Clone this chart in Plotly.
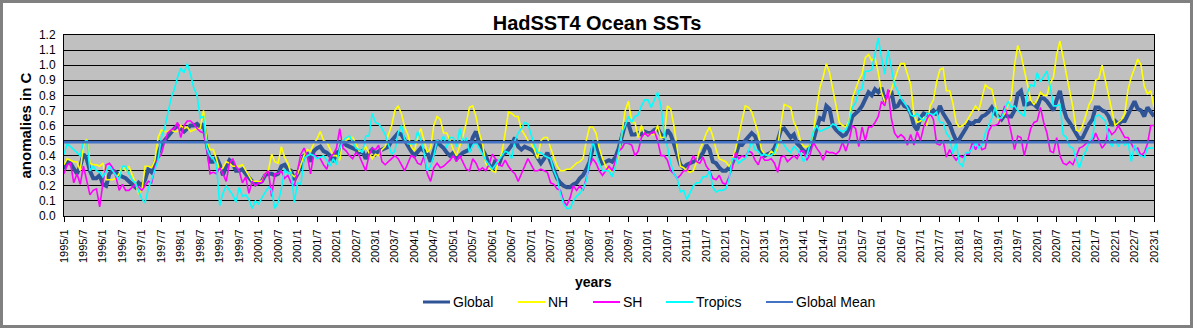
import plotly.graph_objects as go

# ---------------- data (HadSST4 monthly anomalies) ----------------
months = [f"{y}/{m}" for y in range(1995, 2023) for m in range(1, 13)] + ["2023/1"]

global_sst = [
    0.31,0.36,0.35,0.32,0.28,0.33,0.41,0.38,0.30,0.25,0.25,0.27,  # 1995
    0.21,0.20,0.28,0.30,0.29,0.27,0.26,0.25,0.23,0.21,0.19,0.22,  # 1996
    0.20,0.24,0.31,0.29,0.35,0.41,0.47,0.50,0.53,0.56,0.58,0.60,  # 1997
    0.58,0.56,0.58,0.60,0.60,0.61,0.59,0.61,0.48,0.36,0.36,0.39,  # 1998
    0.34,0.27,0.33,0.37,0.35,0.30,0.30,0.31,0.28,0.25,0.23,0.21,  # 1999
    0.22,0.23,0.27,0.28,0.28,0.27,0.28,0.33,0.34,0.31,0.30,0.24,  # 2000
    0.28,0.33,0.40,0.41,0.36,0.43,0.45,0.46,0.43,0.42,0.40,0.36,  # 2001
    0.42,0.43,0.50,0.47,0.46,0.45,0.44,0.42,0.43,0.38,0.42,0.44,  # 2002
    0.41,0.43,0.44,0.45,0.46,0.50,0.53,0.55,0.54,0.50,0.47,0.43,  # 2003
    0.40,0.43,0.45,0.43,0.42,0.36,0.44,0.50,0.47,0.45,0.42,0.40,  # 2004
    0.42,0.38,0.40,0.42,0.43,0.44,0.52,0.56,0.48,0.44,0.40,0.34,  # 2005
    0.31,0.37,0.34,0.40,0.42,0.44,0.47,0.52,0.46,0.44,0.46,0.45,  # 2006
    0.44,0.42,0.38,0.35,0.38,0.42,0.36,0.30,0.25,0.22,0.20,0.19,  # 2007
    0.19,0.21,0.22,0.25,0.27,0.31,0.36,0.45,0.48,0.40,0.35,0.36,  # 2008
    0.37,0.36,0.39,0.45,0.52,0.61,0.61,0.54,0.54,0.55,0.54,0.56,  # 2009
    0.55,0.55,0.57,0.58,0.54,0.52,0.57,0.54,0.48,0.40,0.34,0.32,  # 2010
    0.34,0.35,0.36,0.37,0.39,0.42,0.47,0.44,0.36,0.35,0.32,0.30,  # 2011
    0.30,0.32,0.35,0.40,0.47,0.47,0.50,0.53,0.55,0.53,0.46,0.41,  # 2012
    0.40,0.41,0.42,0.45,0.50,0.57,0.58,0.55,0.52,0.54,0.48,0.46,  # 2013
    0.43,0.42,0.46,0.50,0.58,0.65,0.64,0.73,0.71,0.60,0.57,0.55,  # 2014
    0.53,0.54,0.58,0.66,0.68,0.70,0.73,0.78,0.82,0.80,0.84,0.82,  # 2015
    0.85,0.77,0.78,0.83,0.72,0.73,0.77,0.73,0.72,0.68,0.60,0.57,  # 2016
    0.65,0.68,0.67,0.68,0.70,0.67,0.73,0.68,0.64,0.61,0.55,0.50,  # 2017
    0.51,0.54,0.58,0.62,0.61,0.63,0.63,0.66,0.67,0.69,0.72,0.68,  # 2018
    0.66,0.64,0.67,0.66,0.66,0.70,0.81,0.83,0.74,0.74,0.75,0.74,  # 2019
    0.72,0.78,0.78,0.76,0.73,0.70,0.77,0.83,0.72,0.65,0.62,0.58,  # 2020
    0.54,0.51,0.52,0.57,0.61,0.64,0.72,0.72,0.70,0.69,0.66,0.60,  # 2021
    0.63,0.61,0.63,0.63,0.67,0.71,0.76,0.71,0.70,0.66,0.72,0.69,  # 2022
    0.66,                                                          # 2023
]

nh_sst = [
    0.34,0.38,0.37,0.36,0.36,0.30,0.47,0.51,0.35,0.34,0.34,0.33,
    0.35,0.24,0.24,0.24,0.25,0.28,0.33,0.30,0.33,0.28,0.22,0.15,
    0.17,0.33,0.33,0.32,0.37,0.52,0.57,0.56,0.56,0.57,0.56,0.56,
    0.60,0.58,0.59,0.56,0.57,0.58,0.58,0.70,0.50,0.44,0.44,0.38,
    0.30,0.32,0.36,0.35,0.33,0.33,0.33,0.34,0.30,0.26,0.23,0.23,
    0.23,0.23,0.28,0.30,0.41,0.36,0.35,0.46,0.39,0.35,0.28,0.26,
    0.28,0.34,0.40,0.44,0.43,0.48,0.51,0.56,0.50,0.49,0.45,0.40,
    0.40,0.37,0.51,0.50,0.52,0.52,0.48,0.43,0.43,0.46,0.42,0.38,
    0.41,0.40,0.44,0.46,0.54,0.60,0.70,0.73,0.68,0.59,0.54,0.46,
    0.43,0.52,0.58,0.50,0.42,0.45,0.60,0.66,0.64,0.55,0.55,0.50,
    0.44,0.40,0.47,0.53,0.62,0.72,0.73,0.66,0.55,0.48,0.35,0.32,
    0.30,0.29,0.37,0.42,0.55,0.69,0.68,0.66,0.66,0.57,0.54,0.50,
    0.48,0.44,0.38,0.50,0.52,0.52,0.45,0.39,0.33,0.30,0.30,0.31,
    0.31,0.33,0.35,0.36,0.38,0.50,0.59,0.59,0.55,0.45,0.38,0.33,
    0.30,0.30,0.33,0.40,0.55,0.70,0.76,0.62,0.62,0.52,0.60,0.54,
    0.54,0.54,0.54,0.60,0.52,0.52,0.73,0.71,0.60,0.45,0.33,0.32,
    0.30,0.29,0.30,0.36,0.44,0.49,0.55,0.59,0.53,0.44,0.38,0.37,
    0.36,0.33,0.37,0.44,0.53,0.63,0.73,0.72,0.69,0.62,0.55,0.44,
    0.41,0.40,0.43,0.41,0.46,0.61,0.74,0.73,0.72,0.62,0.58,0.50,
    0.46,0.46,0.47,0.55,0.72,0.85,0.92,1.01,0.95,0.84,0.72,0.62,
    0.60,0.59,0.63,0.78,0.84,0.90,0.94,1.05,1.07,1.03,1.05,0.95,
    0.82,0.76,0.77,0.83,0.90,0.97,1.01,1.01,0.94,0.87,0.67,0.62,
    0.63,0.65,0.60,0.73,0.77,0.89,0.97,0.98,0.83,0.83,0.75,0.62,
    0.59,0.60,0.62,0.66,0.70,0.73,0.70,0.78,0.87,0.85,0.84,0.75,
    0.64,0.65,0.68,0.74,0.78,1.00,1.13,1.07,0.98,0.87,0.77,0.74,
    0.77,0.82,0.80,0.80,0.88,0.92,1.07,1.16,1.05,0.93,0.83,0.72,
    0.57,0.56,0.60,0.67,0.74,0.78,0.90,0.91,1.00,0.90,0.80,0.70,
    0.60,0.62,0.64,0.68,0.84,0.92,0.98,1.04,1.00,0.86,0.81,0.83,
    0.72,
]

sh_sst = [
    0.28,0.34,0.35,0.22,0.28,0.21,0.33,0.23,0.14,0.17,0.18,0.06,
    0.22,0.34,0.35,0.32,0.26,0.17,0.21,0.17,0.17,0.19,0.21,0.19,
    0.17,0.20,0.23,0.22,0.32,0.38,0.41,0.49,0.55,0.57,0.58,0.62,
    0.52,0.60,0.63,0.63,0.61,0.58,0.56,0.55,0.45,0.28,0.29,0.28,
    0.32,0.28,0.23,0.35,0.38,0.33,0.30,0.22,0.26,0.15,0.23,0.20,
    0.22,0.22,0.28,0.30,0.13,0.28,0.28,0.30,0.25,0.27,0.22,0.20,
    0.30,0.41,0.45,0.40,0.28,0.41,0.39,0.38,0.34,0.31,0.39,0.41,
    0.45,0.58,0.45,0.43,0.40,0.38,0.42,0.40,0.35,0.30,0.40,0.45,
    0.44,0.47,0.36,0.34,0.36,0.38,0.40,0.38,0.34,0.30,0.35,0.40,
    0.39,0.35,0.34,0.40,0.28,0.23,0.32,0.35,0.32,0.33,0.35,0.37,
    0.40,0.36,0.40,0.36,0.31,0.30,0.38,0.35,0.30,0.32,0.30,0.34,
    0.41,0.38,0.34,0.33,0.37,0.33,0.30,0.28,0.23,0.28,0.33,0.38,
    0.34,0.30,0.30,0.31,0.30,0.29,0.22,0.21,0.18,0.17,0.10,0.07,
    0.12,0.20,0.17,0.20,0.17,0.25,0.33,0.38,0.35,0.30,0.27,0.30,
    0.33,0.30,0.36,0.43,0.45,0.49,0.48,0.47,0.40,0.43,0.52,0.55,
    0.53,0.55,0.56,0.50,0.40,0.40,0.37,0.30,0.28,0.25,0.27,0.30,
    0.30,0.35,0.40,0.36,0.35,0.39,0.33,0.30,0.25,0.24,0.27,0.22,
    0.21,0.26,0.32,0.42,0.38,0.40,0.39,0.43,0.42,0.37,0.34,0.40,
    0.37,0.37,0.38,0.35,0.29,0.39,0.40,0.36,0.38,0.40,0.38,0.43,
    0.43,0.37,0.41,0.49,0.45,0.42,0.37,0.43,0.42,0.42,0.41,0.43,
    0.49,0.43,0.50,0.60,0.58,0.46,0.59,0.50,0.59,0.59,0.62,0.66,
    0.76,0.73,0.84,0.65,0.55,0.52,0.54,0.52,0.47,0.54,0.47,0.56,
    0.50,0.59,0.64,0.68,0.64,0.48,0.47,0.50,0.39,0.44,0.40,0.37,
    0.40,0.39,0.41,0.41,0.49,0.44,0.48,0.44,0.45,0.56,0.60,0.60,
    0.61,0.66,0.73,0.65,0.55,0.44,0.53,0.52,0.40,0.50,0.58,0.62,
    0.63,0.72,0.62,0.55,0.43,0.42,0.52,0.40,0.35,0.34,0.36,0.34,
    0.40,0.45,0.46,0.48,0.50,0.49,0.55,0.50,0.45,0.48,0.58,0.54,
    0.56,0.60,0.56,0.52,0.52,0.48,0.44,0.45,0.40,0.42,0.48,0.60,
    0.60,
]

tropics_sst = [
    0.41,0.48,0.46,0.44,0.42,0.40,0.49,0.50,0.30,0.33,0.30,0.29,
    0.26,0.30,0.33,0.30,0.27,0.24,0.33,0.33,0.28,0.24,0.22,0.17,
    0.11,0.09,0.18,0.24,0.30,0.37,0.52,0.58,0.68,0.78,0.84,0.92,
    0.98,0.95,1.01,0.94,0.85,0.80,0.65,0.66,0.45,0.40,0.38,0.34,
    0.07,0.15,0.20,0.17,0.14,0.09,0.19,0.13,0.14,0.11,0.05,0.10,
    0.08,0.12,0.16,0.19,0.17,0.05,0.09,0.18,0.31,0.28,0.29,0.09,
    0.22,0.21,0.38,0.40,0.41,0.40,0.38,0.39,0.40,0.37,0.33,0.38,
    0.34,0.45,0.50,0.52,0.53,0.49,0.45,0.44,0.42,0.53,0.53,0.68,
    0.62,0.61,0.58,0.54,0.47,0.41,0.43,0.55,0.60,0.51,0.48,0.48,
    0.48,0.56,0.50,0.42,0.30,0.33,0.40,0.50,0.49,0.53,0.45,0.52,
    0.52,0.46,0.58,0.48,0.52,0.42,0.47,0.49,0.45,0.40,0.37,0.34,
    0.31,0.34,0.37,0.40,0.43,0.42,0.38,0.50,0.55,0.58,0.62,0.61,
    0.54,0.47,0.42,0.42,0.40,0.39,0.38,0.30,0.25,0.15,0.08,0.05,
    0.05,0.10,0.13,0.15,0.18,0.23,0.36,0.50,0.42,0.35,0.30,0.30,
    0.30,0.26,0.33,0.43,0.55,0.60,0.66,0.62,0.66,0.67,0.73,0.77,
    0.77,0.72,0.77,0.82,0.73,0.55,0.46,0.35,0.28,0.25,0.16,0.17,
    0.11,0.15,0.20,0.22,0.22,0.26,0.26,0.30,0.19,0.16,0.17,0.17,
    0.18,0.24,0.38,0.38,0.35,0.37,0.38,0.43,0.50,0.44,0.43,0.40,
    0.41,0.40,0.40,0.42,0.49,0.50,0.47,0.44,0.42,0.46,0.44,0.41,
    0.36,0.40,0.48,0.56,0.60,0.56,0.57,0.58,0.59,0.61,0.60,0.57,
    0.56,0.57,0.62,0.72,0.75,0.83,0.84,0.96,0.96,0.97,1.07,1.18,
    1.05,0.94,1.10,0.98,0.87,0.83,0.78,0.75,0.72,0.67,0.66,0.68,
    0.65,0.63,0.68,0.68,0.67,0.69,0.62,0.62,0.55,0.52,0.41,0.49,
    0.35,0.33,0.42,0.42,0.45,0.49,0.45,0.47,0.55,0.60,0.65,0.72,
    0.65,0.65,0.70,0.76,0.72,0.73,0.70,0.68,0.66,0.82,0.87,0.86,
    0.95,0.89,0.93,0.96,0.86,0.73,0.73,0.74,0.54,0.52,0.46,0.45,
    0.38,0.32,0.39,0.43,0.49,0.52,0.66,0.67,0.65,0.63,0.52,0.46,
    0.51,0.46,0.50,0.47,0.49,0.36,0.47,0.41,0.40,0.39,0.45,0.45,
    0.45,
]

global_mean_value = 0.49
global_mean = [global_mean_value] * len(months)

series_names = ["Global", "NH", "SH", "Tropics", "Global Mean"]
y_ticks = [round(0.1 * k, 1) for k in range(13)]

# ---------------- styling ----------------
FONT = "Arial, 'Liberation Sans', sans-serif"
colors = {"Global": "#2F5597", "NH": "#FFFF00", "SH": "#FF00FF",
          "Tropics": "#00FFFF", "Global Mean": "#4472C4"}
widths = {"Global": 4, "NH": 1.6, "SH": 1.6, "Tropics": 1.6, "Global Mean": 2.6}

W, H = 1199, 331
PL, PR, PT, PB = 64, 1154, 35, 216   # plot-area pixel box


def px_x(px):
    return (px - PL) / (PR - PL)


def px_y(py):
    return (PB - py) / (PB - PT)


x_idx = list(range(len(months)))
data = {"Global": global_sst, "NH": nh_sst, "SH": sh_sst,
        "Tropics": tropics_sst, "Global Mean": global_mean}

fig = go.Figure()
for name in series_names:
    fig.add_trace(go.Scatter(
        x=x_idx, y=data[name], mode="lines", name=name,
        line=dict(color=colors[name], width=widths[name]),
        showlegend=False, hoverinfo="skip"))

tickvals = list(range(0, len(months), 6))
ticktext = [months[i] for i in tickvals]

fig.update_layout(
    width=W, height=H,
    margin=dict(l=PL, r=W - PR, t=PT, b=H - PB, pad=0),
    paper_bgcolor="white", plot_bgcolor="#C0C0C0",
    font=dict(family=FONT, color="black"),
    title=dict(text="<b>HadSST4 Ocean SSTs</b>", font=dict(size=20, family=FONT, color="black"),
               x=597 / W, xanchor="center", xref="container",
               y=1 - 23 / H, yanchor="middle", yref="container"),
    showlegend=False,
    xaxis=dict(range=[0, len(months) - 1], tickmode="array", tickvals=tickvals, ticktext=ticktext,
               tickangle=-90, ticks="outside", ticklen=5, tickcolor="black", tickwidth=1,
               tickfont=dict(size=11, family=FONT, color="black"),
               showline=True, linecolor="black", linewidth=1, mirror=True,
               showgrid=False, zeroline=False, ticklabelstandoff=3),
    yaxis=dict(range=[0, 1.2], tickmode="array", tickvals=y_ticks,
               ticktext=[f"{v:.1f}" for v in y_ticks],
               tickfont=dict(size=12, family=FONT, color="black"),
               showgrid=True, gridcolor="black", gridwidth=1,
               showline=True, linecolor="black", linewidth=1, mirror=True,
               zeroline=False, ticks="", ticklabelstandoff=5),
)

annotations = [
    dict(text="<b>anomalies in C</b>", x=px_x(25), y=0.5, xref="paper", yref="paper",
         textangle=-90, showarrow=False, font=dict(size=15, family=FONT, color="black"),
         xanchor="center", yanchor="middle"),
    dict(text="<b>years</b>", x=px_x(593), y=px_y(282), xref="paper", yref="paper",
         showarrow=False, font=dict(size=14, family=FONT, color="black"),
         xanchor="center", yanchor="middle"),
]

shapes = [
    dict(type="rect", xref="paper", yref="paper",
         x0=px_x(1.5), x1=px_x(1191.5), y0=px_y(326.5), y1=px_y(1.5),
         line=dict(color="#808080", width=3), fillcolor="rgba(0,0,0,0)", layer="above"),
]

# manual legend (line sample start, text start) in pixels
legend_pos = {"Global": (423, 453), "NH": (518, 548), "SH": (593, 623),
              "Tropics": (666, 696), "Global Mean": (766, 796)}
leg_y = 302
for name in series_names:
    ls, ts = legend_pos[name]
    shapes.append(dict(type="line", xref="paper", yref="paper",
                       x0=px_x(ls), x1=px_x(ls + 27), y0=px_y(leg_y), y1=px_y(leg_y),
                       line=dict(color=colors[name], width=3 if name == "Global" else 2)))
    annotations.append(dict(text=name, x=px_x(ts - 2), y=px_y(leg_y), xref="paper", yref="paper",
                            showarrow=False, xanchor="left", yanchor="middle",
                            font=dict(size=14, family=FONT, color="black")))

fig.update_layout(annotations=annotations, shapes=shapes)
fig.write_html("out.html")
